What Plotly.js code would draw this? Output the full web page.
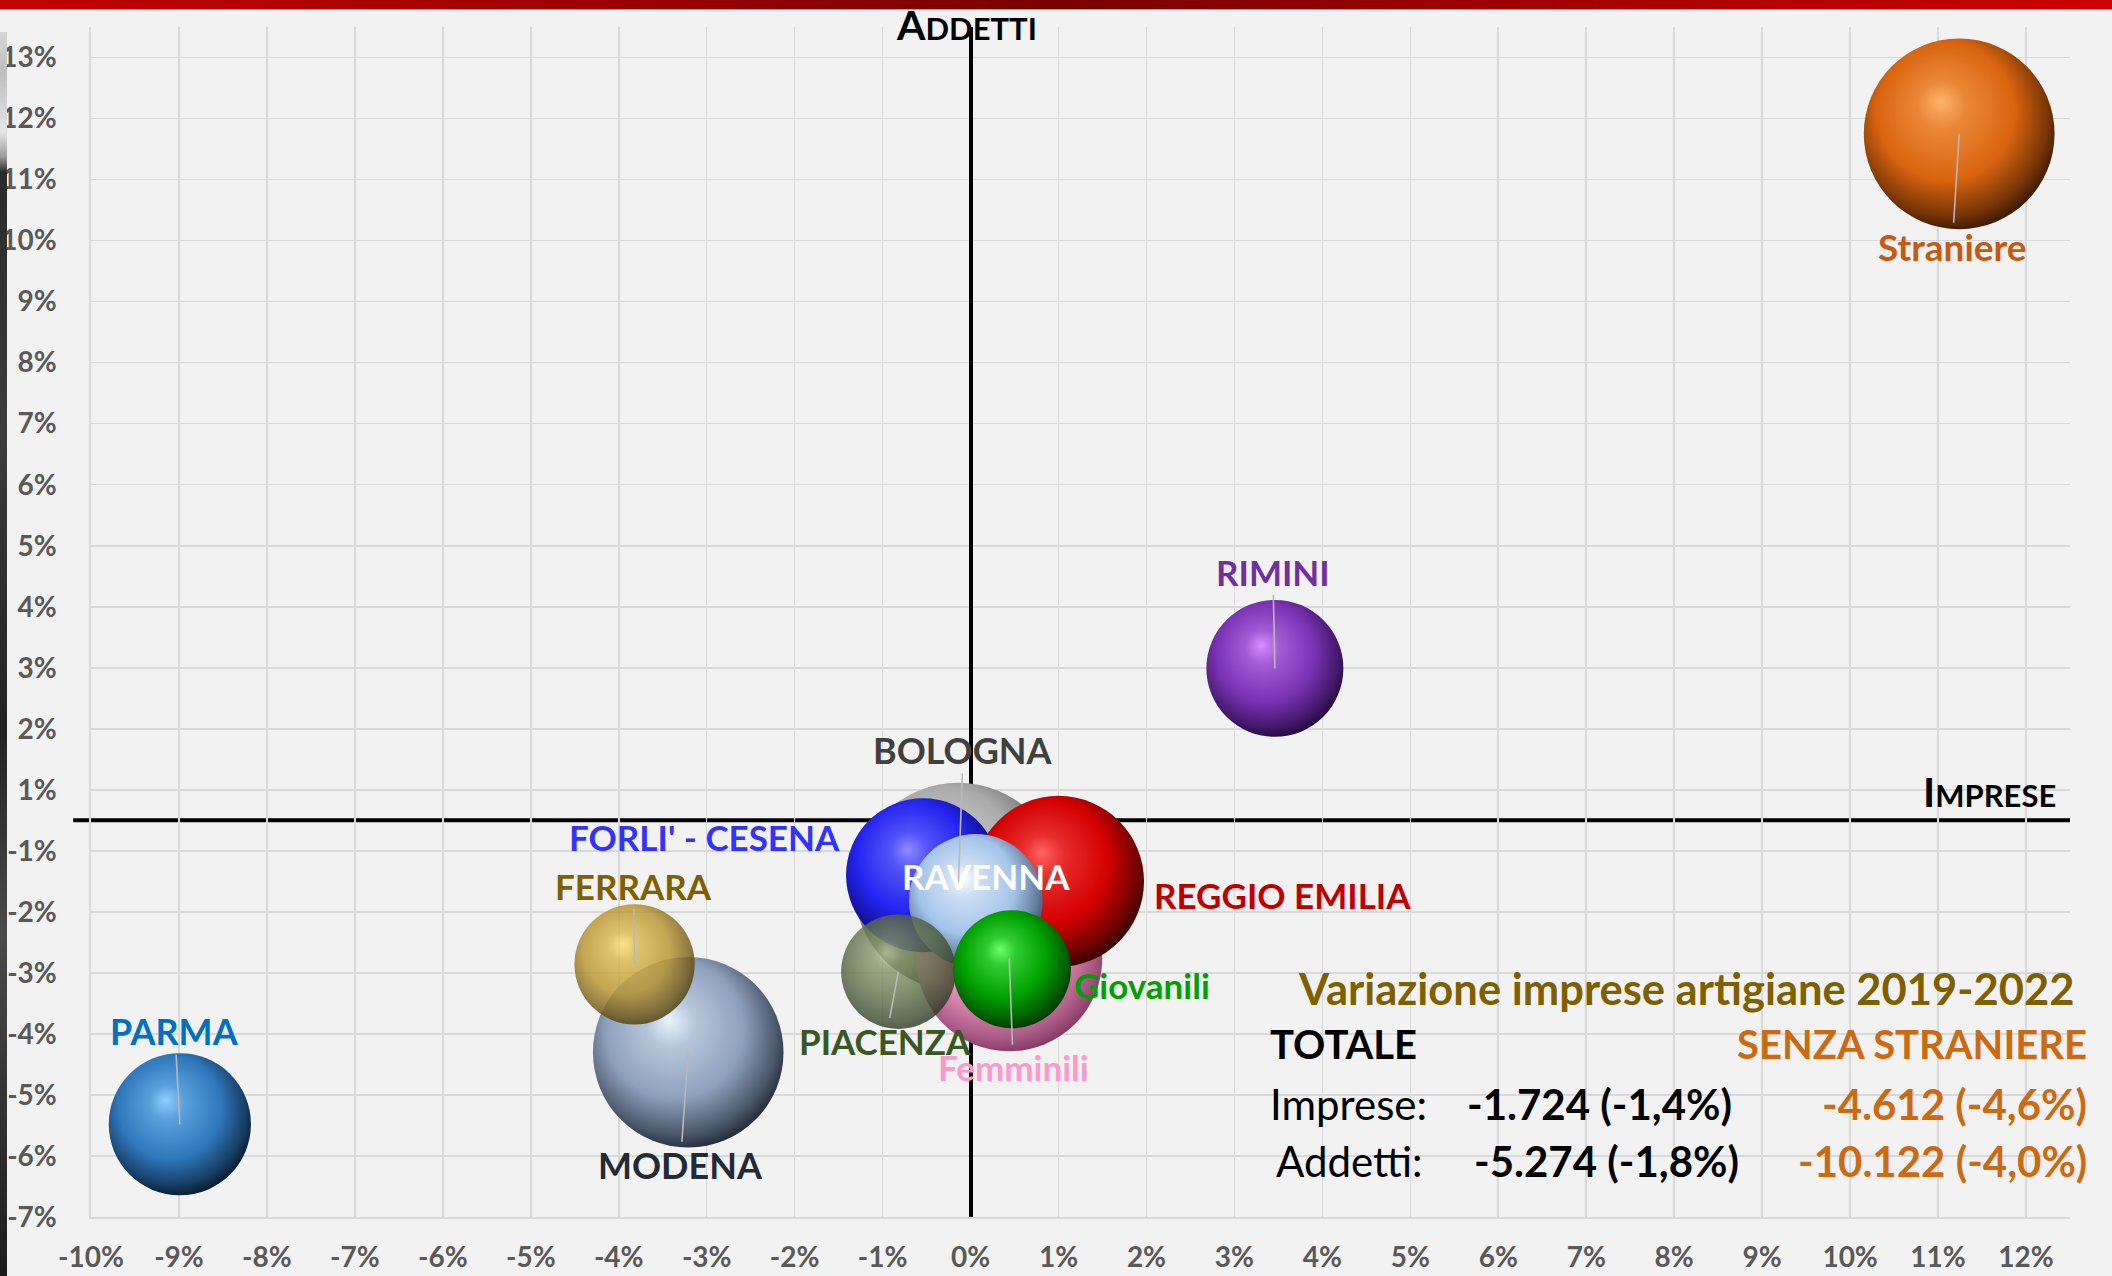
<!DOCTYPE html>
<html>
<head>
<meta charset="utf-8">
<script src="https://cdn.plot.ly/plotly-3.0.1.min.js"></script>
<style>
html,body{margin:0;padding:0;background:#f2f2f2;width:2112px;height:1276px;overflow:hidden}
#chart{position:absolute;left:0;top:0;width:2112px;height:1276px}
#topbar{position:absolute;left:0;top:0;width:2112px;height:9px;z-index:5;
  background:linear-gradient(to right,#c40000 0%,#9a0000 30%,#780000 50%,#a00000 72%,#cc0000 100%);
  border-bottom:1px solid #e28a8a}
#leftstrip{position:absolute;left:0;top:32px;width:7px;height:1244px;z-index:5;
  background:linear-gradient(to bottom,#d8d8d8 0px,#bdbdbd 40px,#e6e6e6 100px,#9a9a9a 125px,#2a2a2a 140px,#3c3c3c 400px,#222 700px,#4a4a4a 900px,#1c1c1c 1244px)}
</style>
</head>
<body>
<div id="chart"></div>
<div id="topbar"></div>
<div id="leftstrip"></div>
<script>
// ---------------- DATA ----------------
const seriesNames = ['MODENA', 'FERRARA', 'PARMA', 'RIMINI', 'Straniere', 'BOLOGNA', 'Femminili',
                     "FORLI' - CESENA", 'REGGIO EMILIA', 'RAVENNA', 'PIACENZA', 'Giovanili'];
// variazione imprese (%), asse X
const impreseVar = [-3.21, -3.82, -8.99, 3.46, 11.24, -0.14, 0.44, -0.54, 1.00, 0.06, -0.82, 0.47];
// variazione addetti (%), asse Y
const addettiVar = [-3.80, -2.36, -4.98, 2.49, 11.25, -1.09, -2.26, -0.90, -1.00, -1.32, -2.48, -2.44];
// dimensione bolla (stima)
const bubbleSize = [19980, 7950, 11120, 10320, 20020, 23800, 19030, 13040, 16080, 9820, 7220, 7660];

const xTickVals = [-10, -9, -8, -7, -6, -5, -4, -3, -2, -1, 0, 1, 2, 3, 4, 5, 6, 7, 8, 9, 10, 11, 12];
const xTickText = ['-10%', '-9%', '-8%', '-7%', '-6%', '-5%', '-4%', '-3%', '-2%', '-1%', '0%', '1%', '2%',
                   '3%', '4%', '5%', '6%', '7%', '8%', '9%', '10%', '11%', '12%'];
const yTickVals = [12.5, 11.5, 10.5, 9.5, 8.5, 7.5, 6.5, 5.5, 4.5, 3.5, 2.5, 1.5, 0.5,
                   -0.5, -1.5, -2.5, -3.5, -4.5, -5.5, -6.5];
const yTickText = ['13%', '12%', '11%', '10%', '9%', '8%', '7%', '6%', '5%', '4%', '3%', '2%', '1%',
                   '-1%', '-2%', '-3%', '-4%', '-5%', '-6%', '-7%'];

const summaryTitle = 'Variazione imprese artigiane 2019-2022';
const summaryHeads = ['TOTALE', 'SENZA STRANIERE'];
const summaryRows = ['Imprese:', 'Addetti:'];
const totaleValues = ['-1.724 (-1,4%)', '-5.274 (-1,8%)'];
const senzaStraniereValues = ['-4.612 (-4,6%)', '-10.122 (-4,0%)'];

// ---------------- STYLES ----------------
const FONT = 'Lato, "Open Sans", "Liberation Sans", sans-serif';
const sphereLight = ['#eaf5ff', '#ffe070', '#8ccfff', '#d88eff', '#ffb46a', '#ececec', '#ffd8ec', '#8c8cff', '#ff6262', '#ffffff', '#b4c894', '#6cff6c'];
const sphereBase  = ['#8ea1bc', '#b8932c', '#2f78bc', '#7a32b4', '#d9640f', '#ababab', '#e590bb', '#2424f0', '#d40000', '#a4c4ea', '#5c6e45', '#00a000'];
const sphereDark  = ['#161e2a', '#3a2c04', '#04101d', '#1a0530', '#2a1000', '#454545', '#7a3058', '#00004a', '#240000', '#34445e', '#222a18', '#002a00'];
const sphereOpacity = [1, 0.8, 1, 1, 1, 1, 1, 1, 1, 1, 0.78, 1];

const labelColor  = ['#222a35', '#7f6000', '#0070c0', '#7030a0', '#c55a11', '#404040', '#ff99cc', '#3333ff', '#c00000', '#ffffff', '#385723', '#00a000'];
const labelSize   = [36, 35, 36, 35, 37, 36, 35, 35, 35, 35, 35, 35];
const labelDX     = [-8, -1, -5, -2, -7, 5, 4, -219, 224, 10, -13, 130];
const labelDY     = [113, -78, -93, -96, 113, -137, 109, -38, 14, -25, 69, 16];
const labelLeader = [true, true, true, true, true, true, true, false, false, false, true, false];

const W = 2112, H = 1276;
const M = {l: 91, r: 42, t: 27, b: 59};
const PW = W - M.l - M.r, PH = H - M.t - M.b;
const px = v => (v - M.l) / PW;          // page pixel -> paper x
const py = v => (H - M.b - v) / PH;      // page pixel -> paper y

// ---------------- TRACE ----------------
const trace = {
  type: 'scatter', mode: 'markers',
  x: impreseVar, y: addettiVar, text: seriesNames,
  hoverinfo: 'text',
  marker: {
    size: bubbleSize, sizemode: 'area', sizeref: 1.1,
    color: sphereBase, opacity: sphereOpacity,
    line: {width: 0}
  },
  cliponaxis: false
};

// ---------------- ANNOTATIONS ----------------
const annotations = [];
seriesNames.forEach((n, i) => {
  annotations.push({
    x: impreseVar[i], y: addettiVar[i], xref: 'x', yref: 'y',
    text: n, showarrow: true, arrowhead: 0, arrowwidth: 1.6, standoff: 0,
    arrowcolor: labelLeader[i] ? '#b8b8b8' : 'rgba(0,0,0,0)',
    ax: labelDX[i], ay: labelDY[i],
    font: {family: FONT, size: labelSize[i], color: labelColor[i], weight: 700}
  });
});
// axis titles in small caps
annotations.push({xref: 'paper', yref: 'paper', x: px(966), y: py(24), showarrow: false,
  xanchor: 'center', yanchor: 'middle',
  text: 'A<span style="font-size:31px">DDETTI</span>',
  font: {family: FONT, size: 41, color: '#000', weight: 700}});
annotations.push({xref: 'paper', yref: 'paper', x: px(2058), y: py(792), showarrow: false,
  xanchor: 'right', yanchor: 'middle',
  text: 'I<span style="font-size:31px">MPRESE</span>',
  font: {family: FONT, size: 41, color: '#000', weight: 700}});
// summary block
const ORANGE = '#cc6a12';
annotations.push({xref: 'paper', yref: 'paper', x: px(1686), y: py(988), showarrow: false,
  xanchor: 'center', yanchor: 'middle', text: summaryTitle,
  font: {family: FONT, size: 43.5, color: '#7f6000', weight: 700}});
annotations.push({xref: 'paper', yref: 'paper', x: px(1268), y: py(1044), showarrow: false,
  xanchor: 'left', yanchor: 'middle', text: summaryHeads[0],
  font: {family: FONT, size: 40, color: '#000', weight: 700}});
annotations.push({xref: 'paper', yref: 'paper', x: px(2089), y: py(1044), showarrow: false,
  xanchor: 'right', yanchor: 'middle', text: summaryHeads[1],
  font: {family: FONT, size: 40, color: ORANGE, weight: 700}});
const rowY = [1104, 1161];
const rowX = [1268, 1274];
const valRight = [1734, 1741];
summaryRows.forEach((r, i) => {
  annotations.push({xref: 'paper', yref: 'paper', x: px(rowX[i]), y: py(rowY[i]), showarrow: false,
    xanchor: 'left', yanchor: 'middle', text: r,
    font: {family: FONT, size: 42, color: '#000', weight: 400}});
  annotations.push({xref: 'paper', yref: 'paper', x: px(valRight[i]), y: py(rowY[i]), showarrow: false,
    xanchor: 'right', yanchor: 'middle', text: totaleValues[i],
    font: {family: FONT, size: 42, color: '#000', weight: 700}});
  annotations.push({xref: 'paper', yref: 'paper', x: px(2089), y: py(rowY[i]), showarrow: false,
    xanchor: 'right', yanchor: 'middle', text: senzaStraniereValues[i],
    font: {family: FONT, size: 42, color: ORANGE, weight: 700}});
});

const tickFont = {family: FONT, size: 28, color: '#595959', weight: 700};
const layout = {
  width: W, height: H, margin: {l: M.l, r: M.r, t: M.t, b: M.b, pad: 0},
  paper_bgcolor: '#f2f2f2', plot_bgcolor: '#f2f2f2', showlegend: false,
  xaxis: {
    range: [-10, 12.5], tickmode: 'array', tickvals: xTickVals, ticktext: xTickText,
    showgrid: true, gridcolor: '#d9d9d9', gridwidth: 1.6,
    zeroline: true, zerolinecolor: '#000', zerolinewidth: 4,
    showline: true, linecolor: '#d9d9d9', linewidth: 1.6,
    ticks: 'outside', ticklen: 15, tickcolor: 'rgba(0,0,0,0)',
    tickfont: tickFont, fixedrange: true
  },
  yaxis: {
    range: [-6.5, 13], tickmode: 'array', tickvals: yTickVals, ticktext: yTickText,
    showgrid: true, gridcolor: '#d9d9d9', gridwidth: 1.6,
    zeroline: false,
    showline: true, linecolor: '#d9d9d9', linewidth: 1.6,
    ticks: 'outside', ticklen: 27, tickcolor: 'rgba(0,0,0,0)',
    tickfont: tickFont, fixedrange: true
  },
  shapes: [{
    type: 'line', layer: 'between', xref: 'paper', yref: 'y',
    x0: -0.009, x1: 1, y0: 0, y1: 0,
    line: {color: '#000', width: 4}
  }],
  annotations: annotations
};

// ---------------- SPHERE SHADING ----------------
function hex2rgb(h) { h = h.replace('#', ''); return [0, 2, 4].map(i => parseInt(h.substr(i, 2), 16)); }
function mix(a, b, t) {
  const A = hex2rgb(a), B = hex2rgb(b);
  return 'rgb(' + A.map((v, i) => Math.round(v + (B[i] - v) * t)).join(',') + ')';
}
function shadeSpheres(gd) {
  const NS = 'http://www.w3.org/2000/svg';
  const svg = gd.querySelector('svg.main-svg');
  let defs = svg.querySelector('defs');
  if (!defs) { defs = document.createElementNS(NS, 'defs'); svg.insertBefore(defs, svg.firstChild); }
  const pts = gd.querySelectorAll('.scatterlayer .trace .points path.point');
  pts.forEach((p, i) => {
    const id = 'sphere-grad-' + i;
    const g = document.createElementNS(NS, 'radialGradient');
    g.setAttribute('id', id);
    g.setAttribute('cx', '0.45'); g.setAttribute('cy', '0.42'); g.setAttribute('r', '0.62');
    g.setAttribute('fx', '0.40'); g.setAttribute('fy', '0.33');
    const stops = [
      [0, sphereLight[i]],
      [0.2, mix(sphereLight[i], sphereBase[i], 0.55)],
      [0.58, sphereBase[i]],
      [0.84, mix(sphereBase[i], sphereDark[i], 0.55)],
      [1, sphereDark[i]]
    ];
    stops.forEach(s => {
      const st = document.createElementNS(NS, 'stop');
      st.setAttribute('offset', s[0]);
      st.setAttribute('stop-color', s[1]);
      g.appendChild(st);
    });
    defs.appendChild(g);
    p.style.fill = 'url(#' + id + ')';
  });
}

const gd = document.getElementById('chart');
Plotly.newPlot(gd, [trace], layout, {staticPlot: true, displayModeBar: false})
  .then(() => shadeSpheres(gd));
</script>
</body>
</html>
